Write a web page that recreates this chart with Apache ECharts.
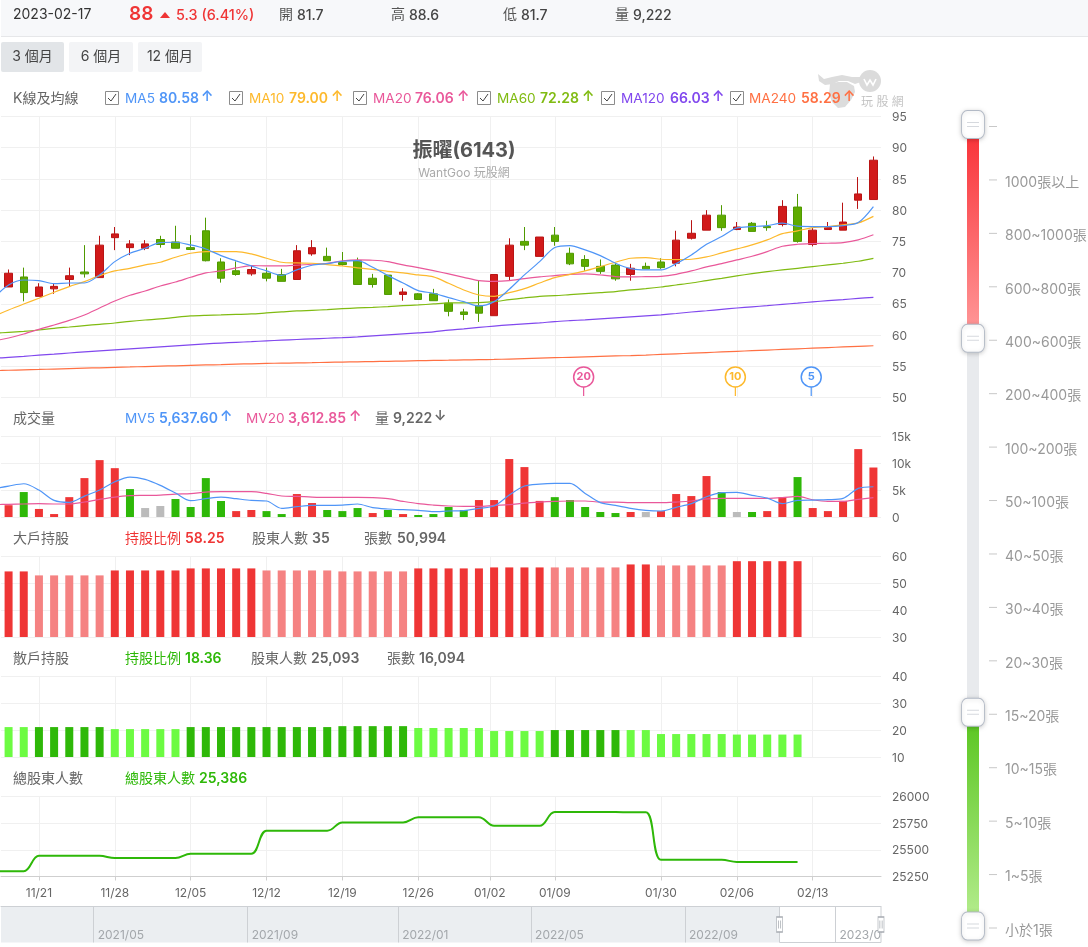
<!DOCTYPE html>
<html lang="zh-Hant">
<head>
<meta charset="utf-8">
<title>振曜(6143) 籌碼走勢</title>
<script src="https://cdn.jsdelivr.net/npm/echarts@6/dist/echarts.min.js"></script>
<style>
html,body{margin:0;padding:0;background:#fff}
#chart{width:1088px;height:947px}
</style>
</head>
<body>
<div id="chart"></div>
<script>
// Row 0 of every daily list is the session just before the visible window,
// so the moving averages run out to the left edge of the plot.
const sessions = ['11/16',
  '11/17','11/18','11/21','11/22','11/23','11/24','11/25','11/28','11/29','11/30',
  '12/01','12/02','12/05','12/06','12/07','12/08','12/09','12/12','12/13','12/14',
  '12/15','12/16','12/19','12/20','12/21','12/22','12/23','12/26','12/27','12/28',
  '12/29','12/30','01/03','01/04','01/05','01/06','01/09','01/10','01/11','01/12',
  '01/13','01/16','01/17','01/30','01/31','02/01','02/02','02/03','02/06','02/07',
  '02/08','02/09','02/10','02/13','02/14','02/15','02/16','02/17'];

// open, close, low, high
const candles = [['-','-','-','-'],
  [67.7,69.9,67.7,70.5],[69.3,66.8,65.4,70.8],[66.2,67.7,66.2,68.3],[67.4,67.8,66.6,68.3],[68.9,69.5,67.8,70.8],
  [70.1,69.8,69.2,74.4],[69.2,74.4,69.2,75.9],[75.6,76.2,73.6,77.3],[74.0,74.6,72.8,75.2],[73.9,74.6,73.6,75.2],
  [75.3,74.5,74.0,75.9],[74.9,73.9,73.9,77.5],[74.0,73.7,73.6,76.0],[76.7,71.9,71.8,78.8],[71.7,69.1,68.4,72.3],
  [70.3,69.7,69.5,71.8],[69.8,70.5,69.5,71.2],[69.9,69.1,68.6,70.8],[69.7,68.6,68.6,70.6],[68.9,73.5,68.9,74.4],
  [73.0,74.0,72.7,75.2],[72.6,71.9,71.9,74.0],[71.6,71.3,71.1,73.3],[71.9,68.1,68.1,72.4],[69.1,68.1,67.6,69.8],
  [69.6,66.5,66.5,69.6],[66.5,66.9,65.5,67.5],[66.6,65.7,65.7,66.7],[66.6,65.5,65.5,67.4],[65.1,63.8,63.0,65.7],
  [63.7,63.3,62.4,64.2],[64.7,63.5,62.1,68.7],[63.1,69.7,63.1,69.7],[69.4,74.4,68.7,75.5],[75.0,74.4,73.6,77.3],
  [72.6,75.7,72.6,75.7],[76.0,75.0,74.3,77.3],[73.1,71.4,71.2,74.0],[72.1,71.0,70.3,72.8],[71.0,70.2,69.8,72.1],
  [71.2,69.0,68.7,71.5],[69.7,70.7,68.7,71.4],[71.0,70.6,70.6,71.6],[71.7,70.8,70.6,72.3],[71.5,75.2,71.0,76.7],
  [75.5,76.3,75.3,78.4],[76.8,79.2,76.8,80.0],[79.2,77.2,76.7,80.8],[76.9,77.3,76.8,78.1],[77.9,76.6,76.6,78.1],
  [77.4,77.2,76.7,78.3],[77.7,80.6,77.4,81.6],[80.5,75.0,74.8,82.6],[74.5,76.8,74.2,77.3],[76.9,77.2,76.9,78.1],
  [76.8,78.1,76.8,81.2],[81.6,82.6,80.2,85.3],[81.7,88,81.7,88.6]];

const ma5 = [65.89,
  68.02,68.82,68.72,68.24,68.34,68.34,69.63,71.76,73.1,73.9,
  74.81,74.86,74.43,73.79,72.72,71.87,71.07,70.27,69.57,70.43,
  71.18,71.44,71.82,71.92,70.85,69.52,68.34,67.12,66.69,65.99,
  65.35,64.66,65.35,67.33,69.63,71.76,74.01,74.33,73.63,72.72,
  71.5,70.64,70.43,70.43,71.44,72.83,74.54,75.77,77.16,77.37,
  77.53,77.91,77.43,77.37,77.37,77.53,78.01,80.58];
const ma10 = [62.95,
  64.02,64.98,65.89,66.85,67.76,68.56,69.52,70.27,70.69,71.23,
  71.66,72.46,73.1,73.37,73.37,73.37,72.99,72.3,71.66,71.55,
  71.5,71.28,71.07,70.75,70.53,70.21,69.95,69.63,69.31,68.29,
  67.22,66.42,66.21,66.79,67.44,68.34,69.2,69.73,70.27,70.96,
  71.66,72.3,72.4,72.14,72.08,72.14,72.51,73.15,73.79,74.43,
  75.24,76.25,76.68,77.21,77.37,77.64,77.96,79.0];
const ma20 = [59.05,
  59.53,60.17,60.92,61.61,62.36,63.22,64.34,65.46,66.37,67.06,
  67.86,68.5,69.25,69.95,70.27,70.75,71.12,71.07,71.07,71.18,
  71.34,71.5,71.87,72.03,71.98,71.76,71.23,70.8,70.32,69.79,
  69.25,68.72,68.61,68.72,69.04,69.31,69.52,69.73,69.79,69.63,
  69.36,69.31,69.36,69.41,69.73,70.27,70.91,71.44,72.03,72.62,
  73.37,74.22,74.54,74.65,74.7,74.81,75.24,76.06];
const ma60 = [60.28,
  60.44,60.6,60.81,61.08,61.29,61.51,61.72,61.93,62.2,62.41,
  62.58,62.84,63.06,63.16,63.22,63.3,63.38,63.54,63.7,63.86,
  63.96,64.07,64.23,64.34,64.44,64.55,64.71,64.82,64.98,65.14,
  65.14,65.19,65.35,65.67,65.94,66.21,66.31,66.47,66.63,66.79,
  66.96,67.22,67.44,67.7,68.02,68.34,68.72,69.09,69.47,69.84,
  70.16,70.43,70.69,70.96,71.23,71.5,71.82,72.28];
const ma120 = [56.27,
  56.43,56.59,56.78,56.94,57.13,57.31,57.47,57.63,57.79,57.95,
  58.11,58.27,58.43,58.59,58.72,58.83,58.94,59.07,59.18,59.29,
  59.39,59.49,59.58,59.71,59.87,60.03,60.19,60.35,60.51,60.79,
  60.99,61.22,61.44,61.63,61.79,61.95,62.16,62.31,62.44,62.6,
  62.76,62.92,63.08,63.24,63.45,63.69,63.89,64.12,64.33,64.52,
  64.71,64.92,65.11,65.32,65.5,65.67,65.87,66.03];
const ma240 = [54.3,
  54.36,54.43,54.49,54.56,54.63,54.7,54.76,54.83,54.89,54.96,
  55.02,55.08,55.15,55.21,55.27,55.34,55.4,55.46,55.5,55.54,
  55.58,55.63,55.67,55.71,55.76,55.8,55.84,55.89,55.93,55.97,
  56.02,56.06,56.1,56.16,56.23,56.3,56.37,56.44,56.51,56.58,
  56.65,56.72,56.8,56.9,57.0,57.1,57.2,57.3,57.4,57.5,
  57.6,57.7,57.8,57.9,58.0,58.1,58.2,58.29];

// r = up day, g = down day, n = unchanged
const volumes = [null,
  2200,4650,1500,550,3700,7250,10600,9100,5200,1670,
  2050,3350,1860,7250,2980,1100,1300,1100,550,4280,
  2600,1300,1100,1670,740,1300,550,370,550,1860,
  1300,3160,3160,10800,9300,3000,3700,3160,1860,930,
  740,930,930,1100,4280,3900,7630,4650,930,930,
  1100,3700,7440,1670,1100,3000,12650,9222];
const volumeTones = ['n',
  'r','g','r','r','r','r','r','r','g','n',
  'n','g','g','g','g','r','r','g','g','r',
  'r','g','g','g','r','g','r','g','g','g',
  'g','r','r','r','r','r','g','g','g','g',
  'g','r','n','r','r','r','r','g','n','g',
  'r','r','g','r','r','r','r','r'];
const mv5 = [5270,
  5770,6200,5020,3100,2730,3900,5020,6570,7440,7000,
  5890,4460,3040,3410,3720,3410,3100,2980,1610,1920,
  2170,2170,2230,2420,1740,1490,1360,1240,990,1120,
  1180,1610,2050,4090,5770,6140,6260,6260,4400,2670,
  2170,1610,1240,1120,1800,2480,3780,4530,4590,4030,
  3530,2480,3100,3160,3220,3470,5330,5637.6];
const mv20 = [2300,
  2360,2420,2480,2420,2420,2790,3290,3720,3970,4030,
  4090,4280,4340,4650,4710,4710,4710,4400,3910,3840,
  3720,3660,3660,3660,3600,3410,2910,2480,2230,2050,
  1980,1980,2170,2290,2600,2790,2910,2980,2980,2790,
  2790,2670,2670,2670,2790,2980,3350,3470,3470,3470,
  3470,3600,3840,3220,2910,2910,3290,3612.85];

// Weekly shareholding; d = rose on the week, l = eased or flat
const majorShare = [null,
  54.44,54.44,52.96,52.96,52.96,52.96,52.96,54.8,54.8,54.8,
  54.8,54.8,55.56,55.56,55.56,55.56,55.56,54.8,54.8,54.8,
  54.8,54.8,54.44,54.44,54.44,54.44,54.44,55.56,55.56,55.56,
  55.56,55.56,55.93,55.93,55.93,55.93,55.93,55.93,55.93,55.93,
  55.93,57.04,57.04,56.67,56.67,56.67,56.67,56.67,58.25,58.25,
  58.25,58.25,58.25];
const majorTones = ['l',
  'd','d','l','l','l','l','l','d','d','d',
  'd','d','d','d','d','d','d','l','l','l',
  'l','l','l','l','l','l','l','d','d','d',
  'd','d','d','d','d','d','l','l','l','l',
  'l','d','d','l','l','l','l','l','d','d',
  'd','d','d'];
const retailShare = [null,
  21.15,21.15,21.15,21.15,21.15,21.15,21.15,20.4,20.4,20.4,
  20.4,20.4,21.15,21.15,21.15,21.15,21.15,21.15,21.15,21.15,
  21.15,21.15,21.5,21.5,21.5,21.5,21.5,20.8,20.8,20.8,
  20.8,20.8,19.67,19.67,19.67,19.67,20.04,20.04,20.04,20.04,
  20.04,20.04,20.04,18.55,18.55,18.55,18.55,18.55,18.36,18.36,
  18.36,18.36,18.36];
const retailTones = ['l',
  'l','l','d','d','d','d','d','l','l','l',
  'l','l','d','d','d','d','d','d','d','d',
  'd','d','d','d','d','d','d','l','l','l',
  'l','l','l','l','l','l','d','d','d','d',
  'd','l','l','l','l','l','l','l','l','l',
  'l','l','l'];
const holders = [25299,
  25299,25299,25444,25444,25444,25444,25444,25423,25423,25423,
  25423,25423,25463,25463,25463,25463,25463,25679,25679,25679,
  25679,25679,25756,25756,25756,25756,25756,25805,25805,25805,
  25805,25805,25725,25725,25725,25725,25855,25855,25855,25855,
  25855,25852,25852,25407,25407,25407,25407,25407,25386,25386,
  25386,25386,25386];

// Weekly date ticks: the 01/02 market holiday falls between two sessions.
const dateTickLabels = ['11/21','11/28','12/05','12/12','12/19','12/26','01/02','01/09','01/30','02/06','02/13'];
const dateTickRows = [3,8,13,18,23,28,32.72,37,44,49,54];

// Sessions of the whole two-year history shown in the range strip.
const historySessions = 503;
const historyWindowStart = 445;
const historyTickLabels = ['2021/05','2021/09','2022/01','2022/05','2022/09','2023/01'];
const historyTickSessions = [53,141,227,303,391,477];

// Holding-size brackets of the filter on the right.
const holdingTiers = ['','1000張以上','800~1000張','600~800張','400~600張','200~400張','100~200張','50~100張',
  '40~50張','30~40張','20~30張','15~20張','10~15張','5~10張','1~5張','小於1張'];
const largeRange = [0,4];
const smallRange = [11,15];

// Lookback start of each short moving average.
const lookbackPeriods = [20,10,5];
const lookbackRows = [39,49,54];

const FONT = 'Inter, "Noto Sans CJK TC", sans-serif';
const RED = '#ef3535', RED_SOFT = '#f58282', GREEN = '#2eb808', GREEN_SOFT = '#6cfb42', GREY = '#bbbbbb';
const MA_COLORS = {5:'#4f95f7',10:'#fdb92c',20:'#e9589a',60:'#80bb12',120:'#8148ee',240:'#ff7043'};
const GRID_LINE = '#f0f0f0';

const panels = [
  {top:116.5,height:281,min:50,max:95,interval:5},
  {top:436.5,height:80.5,min:0,max:15000,interval:5000,fmt:v=>v?v/1000+'k':'0'},
  {top:556.5,height:80.5,min:30,max:60,interval:10},
  {top:676.5,height:80.5,min:10,max:40,interval:10},
  {top:796.5,height:80,min:25250,max:26000,interval:250,fmt:v=>String(v)}
];

const grid = [], xAxis = [], yAxis = [], series = [];
const tickName = {};
dateTickRows.forEach((r,i)=>{tickName[r]=dateTickLabels[i];});

panels.forEach((p,i)=>{
  const last = i===panels.length-1;
  grid.push({left:1,width:880,top:p.top,height:p.height,outerBoundsMode:'none'});
  // Band axis that places the marks.
  xAxis.push({type:'category',gridIndex:i,position:'top',data:sessions,min:1,max:58,show:false,boundaryGap:true});
  // Overlay in row units that carries the weekly ticks and rules.
  xAxis.push({
    type:'value',gridIndex:i,position:'bottom',min:0.5,max:58.5,
    axisLine:{show:last,onZero:false,lineStyle:{color:'#cfcfcf'}},
    axisTick:{show:last,customValues:dateTickRows,length:4,lineStyle:{color:'#cfcfcf'}},
    axisLabel:{show:last,customValues:dateTickRows,formatter:v=>tickName[v]||'',color:'#666',fontSize:12,margin:11,fontFamily:FONT},
    splitLine:{show:true,lineStyle:{color:GRID_LINE}}
  });
  yAxis.push({
    type:'value',gridIndex:i,position:'right',min:p.min,max:p.max,interval:p.interval,
    axisLine:{show:false},axisTick:{show:false},
    axisLabel:{color:'#666',fontSize:12,margin:11,verticalAlign:'top',padding:[-5,0,0,0],fontFamily:FONT,formatter:p.fmt},
    splitLine:{show:true,lineStyle:{color:GRID_LINE}}
  });
});

const xOf = i => i*2;
const lineSeries = (panel,data,color,width,smooth) => ({
  type:'line',xAxisIndex:xOf(panel),yAxisIndex:panel,data,showSymbol:false,smooth,
  lineStyle:{color,width},itemStyle:{color},silent:true,animation:false,z:3
});
const barSeries = (panel,values,tones,palette) => ({
  type:'bar',xAxisIndex:xOf(panel),yAxisIndex:panel,barWidth:8,silent:true,animation:false,
  data:values.map((v,i)=>({value:v,itemStyle:{color:palette[tones[i]]}}))
});

series.push({
  type:'candlestick',xAxisIndex:0,yAxisIndex:0,data:candles,barWidth:8,silent:true,animation:false,z:2,
  itemStyle:{color:'#d11a1a',color0:'#5fab00',borderColor:'#b91414',borderColor0:'#4f9a00',borderWidth:1}
});
[[ma240,240],[ma120,120],[ma60,60],[ma20,20],[ma10,10],[ma5,5]].forEach(([d,n])=>{
  series.push(lineSeries(0,d,MA_COLORS[n],1.2,0.3));
});
// Round pins at the start of each short average's lookback.
series.push({
  type:'scatter',xAxisIndex:0,yAxisIndex:0,silent:true,animation:false,z:4,symbol:'rect',symbolSize:[1.2,9],symbolOffset:[-1.5,0],
  data:lookbackRows.map((r,i)=>({value:[r,50.96],itemStyle:{color:MA_COLORS[lookbackPeriods[i]],opacity:1}}))
});
series.push({
  type:'scatter',xAxisIndex:0,yAxisIndex:0,silent:true,animation:false,z:5,symbol:'circle',symbolSize:20,symbolOffset:[-1.5,0],
  data:lookbackRows.map((r,i)=>{
    const c = MA_COLORS[lookbackPeriods[i]];
    return {value:[r,53.28],itemStyle:{color:'#fff',borderColor:c,borderWidth:1.5,opacity:1},
      label:{show:true,position:'inside',formatter:String(lookbackPeriods[i]),color:c,fontSize:11,fontWeight:700,fontFamily:FONT}};
  })
});

series.push(barSeries(1,volumes,volumeTones,{r:RED,g:GREEN,n:GREY}));
series.push(lineSeries(1,mv20,MA_COLORS[20],1.2,0.3));
series.push(lineSeries(1,mv5,MA_COLORS[5],1.2,0.3));
series.push(barSeries(2,majorShare,majorTones,{d:RED,l:RED_SOFT}));
series.push(barSeries(3,retailShare,retailTones,{d:GREEN,l:GREEN_SOFT}));
series.push(lineSeries(4,holders,GREEN,2,0.4));

// Holding-size filter: a narrow plot whose band axis lists the brackets.
const tierPanel = panels.length;
grid.push({left:967,width:12,top:126.5,height:801.5,show:true,backgroundColor:'#e8eaed',borderWidth:0,outerBoundsMode:'none'});
xAxis.push({type:'value',gridIndex:tierPanel,min:0,max:1,show:false});
yAxis.push({
  type:'category',gridIndex:tierPanel,position:'right',inverse:true,boundaryGap:false,offset:10,data:holdingTiers,
  axisLine:{show:false},axisTick:{show:false},
  axisLabel:{color:'#999',fontSize:14,margin:16,verticalAlign:'top',padding:[-4.5,0,0,0],interval:0,fontFamily:FONT},splitLine:{show:false}
});
const tierX = xAxis.length-1, tierY = yAxis.length-1;
const stops = (a,b)=>({type:'linear',x:0,y:0,x2:0,y2:1,colorStops:[{offset:0,color:a},{offset:1,color:b}]});
const handleRows = [largeRange[0],largeRange[1],smallRange[0],smallRange[1]];
// One short dash beside every bracket.
series.push({
  type:'scatter',xAxisIndex:tierX,yAxisIndex:tierY,silent:true,animation:false,clip:false,z:3,
  symbol:'rect',symbolSize:[8,1],symbolOffset:[20,0],itemStyle:{color:'#c8c8c8',opacity:1},
  data:holdingTiers.map((t,i)=>[0.5,i])
});
series.push({
  type:'scatter',xAxisIndex:tierX,yAxisIndex:tierY,silent:true,animation:false,clip:false,z:6,
  symbol:'roundRect',symbolSize:[23,28],symbolOffset:[0,-2],
  itemStyle:{color:'#fff',opacity:1,borderColor:'#b3bac6',borderWidth:1,shadowBlur:4,shadowOffsetY:1,shadowColor:'rgba(0,0,0,.18)'},
  data:handleRows.map(r=>[0.5,r]),
  markArea:{silent:true,data:[
    [{yAxis:largeRange[0],itemStyle:{color:stops('#f92f35','#ff9c9c')}},{yAxis:largeRange[1]}],
    [{yAxis:smallRange[0],itemStyle:{color:stops('#58c51e','#b8ee92')}},{yAxis:smallRange[1]}]
  ]}
});
series.push({
  type:'scatter',xAxisIndex:tierX,yAxisIndex:tierY,silent:true,animation:false,clip:false,z:7,
  symbol:'path://M0 0H12V1H0ZM0 4H12V5H0Z',symbolSize:[12,5],symbolOffset:[0,-2],symbolKeepAspect:false,
  itemStyle:{color:'#d6d9de',opacity:1},data:handleRows.map(r=>[0.5,r])
});

// Range strip along the bottom: whole history with the current window left open.
const stripPanel = tierPanel+1;
grid.push({left:1,width:880,top:906.5,height:36,show:true,backgroundColor:'#ebeef1',borderWidth:0,outerBoundsMode:'none'});
xAxis.push({
  type:'value',gridIndex:stripPanel,position:'top',min:0,max:historySessions,z:5,
  axisLine:{show:true,onZero:false,lineStyle:{color:'#cdd0d4'}},
  axisTick:{show:true,inside:true,length:36,customValues:historyTickSessions,lineStyle:{color:'#cdd0d4'}},
  axisLabel:{inside:true,align:'left',customValues:historyTickSessions,margin:23,padding:[0,0,0,4],color:'#a3a7ab',fontSize:12,fontFamily:FONT,
    formatter:v=>historyTickLabels[historyTickSessions.indexOf(v)]},
  splitLine:{show:false}
});
yAxis.push({type:'value',gridIndex:stripPanel,min:0,max:1,show:false});
const stripX = xAxis.length-1, stripY = yAxis.length-1;
const windowEdges = [historyWindowStart,historySessions];
series.push({
  type:'scatter',xAxisIndex:stripX,yAxisIndex:stripY,silent:true,animation:false,clip:false,z:8,
  symbol:'rect',symbolSize:[6,15],itemStyle:{color:'#fff',opacity:1,borderColor:'#a6abb1',borderWidth:1},
  data:windowEdges.map(e=>[e,0.5]),
  markArea:{silent:true,itemStyle:{color:'#fff',borderColor:'#cdd0d4',borderWidth:1},
    data:[[{xAxis:historyWindowStart},{xAxis:historySessions}]]}
});
series.push({
  type:'scatter',xAxisIndex:stripX,yAxisIndex:stripY,silent:true,animation:false,clip:false,z:9,
  symbol:'path://M0 0H1V8H0ZM3 0H4V8H3Z',symbolSize:[3,8],itemStyle:{color:'#a6abb1',opacity:1},
  data:windowEdges.map(e=>[e,0.5])
});

// Page furniture around the plots.
const g = [];
const font = (size,weight)=>`${weight||400} ${size}px ${FONT}`;
const txt = (x,y,text,fill,size,weight,align,z)=>g.push({
  type:'text',x,y,z:z||10,silent:true,
  style:{text,fill,font:font(size,weight),textAlign:align||'left',textVerticalAlign:'middle'}
});
const rect = (x,y,w,h,fill,r,stroke,z)=>g.push({
  type:'rect',x,y,z:z||1,silent:true,shape:{x:0,y:0,width:w,height:h,r:r||0},style:{fill,stroke:stroke||null,lineWidth:1}
});
const poly = (points,fill)=>g.push({type:'polygon',z:1,silent:true,shape:{points},style:{fill}});

// Quote bar
rect(1,0,1087,36,'#f7f8fa');
rect(1,36,1087,1,'#e6e7e9');
txt(13,15,'2023-02-17','#333',14);
txt(129,14,'88',RED,19,600);
g.push({type:'polygon',z:10,silent:true,shape:{points:[[160,18],[170,18],[165,12]]},style:{fill:RED}});
txt(176,15.5,'5.3 (6.41%)',RED,14.4,500);
txt(279,15,'開','#555',14); txt(297,15.5,'81.7','#444',14,500);
txt(391,15,'高','#555',14); txt(409,15.5,'88.6','#444',14,500);
txt(503,15,'低','#555',14); txt(521,15.5,'81.7','#444',14,500);
txt(615,15,'量','#555',14); txt(633,15.5,'9,222','#444',14,500);

// Period buttons
rect(1,42,63,30,'#e2e5e8',2);
rect(69,42,64,30,'#f3f4f6',2);
rect(138,42,64,30,'#f3f4f6',2);
txt(32.5,57,'3 個月','#444',14,400,'center');
txt(101,57,'6 個月','#444',14,400,'center');
txt(170,57,'12 個月','#444',14,400,'center');

// Mascot mark behind the legend row
poly([[818,74],[819,81],[825,85],[833,84],[839,81],[848,81],[855,84],[861,82],[866,72],[860,77],[852,77],[842,75],[832,77],[824,79]],'#dcdcdc');
poly([[830,84],[829,94],[832,102],[838,108],[845,107],[851,100],[855,92],[854,86],[847,82],[838,82]],'#dcdcdc');
g.push({type:'circle',z:1,silent:true,shape:{cx:870,cy:81,r:11},style:{fill:'#dbdbdb'}});
g.push({type:'polyline',z:1,silent:true,shape:{points:[[864,79],[867,85],[870,80],[873,85],[876,79]]},style:{stroke:'#fff',lineWidth:1.6,fill:null}});
txt(861,102,'玩 股 網','#c4c4c4',12,400,'left',1);

// Moving average legend
txt(13,98.5,'K線及均線','#666',14);
const tick = (x)=>{
  rect(x+.5,91.5,13,13,'#fff',0,'#8c8c8c',9);
  g.push({type:'polyline',z:10,silent:true,shape:{points:[[x+3,98],[x+6,101],[x+11,94]]},style:{stroke:'#444',lineWidth:1,fill:null}});
};
const legendRow = [
  [105,125,159,201,'MA5','80.58',5],
  [229,249,289,331,'MA10','79.00',10],
  [353,373,415,457,'MA20','76.06',20],
  [477,497,540,582,'MA60','72.28',60],
  [601,621,670,712,'MA120','66.03',120],
  [730,749,801,843,'MA240','58.29',240]
];
legendRow.forEach(([b,l,v,a,name,val,n])=>{
  const c = MA_COLORS[n];
  tick(b);
  txt(l,98.5,name,c,13.6);
  txt(v,98.5,val,c,14,600);
  txt(a,96.5,'↑',c,14,600);
});

// Title
txt(464,151,'振曜(6143)','#555',20,700,'center');
txt(464,173,'WantGoo 玩股網','#aaa',12,400,'center');

// Volume caption
txt(13,418.5,'成交量','#666',14);
txt(125,418.5,'MV5',MA_COLORS[5],13.6); txt(159,418.5,'5,637.60',MA_COLORS[5],14,600); txt(220,416.5,'↑',MA_COLORS[5],14,600);
txt(246,418.5,'MV20',MA_COLORS[20],13.6); txt(288,418.5,'3,612.85',MA_COLORS[20],14,600); txt(349,416.5,'↑',MA_COLORS[20],14,600);
txt(375,418.5,'量','#666',14); txt(393,418.5,'9,222','#666',14,600); txt(434,416.5,'↓','#666',14,600);

// Shareholding captions
txt(13,538.5,'大戶持股','#666',14);
txt(125,538.5,'持股比例',RED,14); txt(185,538.5,'58.25',RED,14,600);
txt(252,538.5,'股東人數','#666',14); txt(312,538.5,'35','#666',14,600);
txt(364,538.5,'張數','#666',14); txt(397,538.5,'50,994','#666',14,600);

txt(13,658.5,'散戶持股','#666',14);
txt(125,658.5,'持股比例',GREEN,14); txt(185,658.5,'18.36',GREEN,14,600);
txt(251,658.5,'股東人數','#666',14); txt(311,658.5,'25,093','#666',14,600);
txt(387,658.5,'張數','#666',14); txt(419,658.5,'16,094','#666',14,600);

txt(13,778.5,'總股東人數','#666',14);
txt(125,778.5,'總股東人數',GREEN,14); txt(199,778.5,'25,386',GREEN,14,600);

// Keeps the last strip label inside the strip
rect(882,905,30,40,'#fff',0,null,7);

const chart = echarts.init(document.getElementById('chart'));
chart.setOption({
  animation:false,
  backgroundColor:'#fff',
  textStyle:{fontFamily:FONT},
  tooltip:{show:false},
  grid,xAxis,yAxis,series,graphic:{elements:g}
});
</script>
</body>
</html>
